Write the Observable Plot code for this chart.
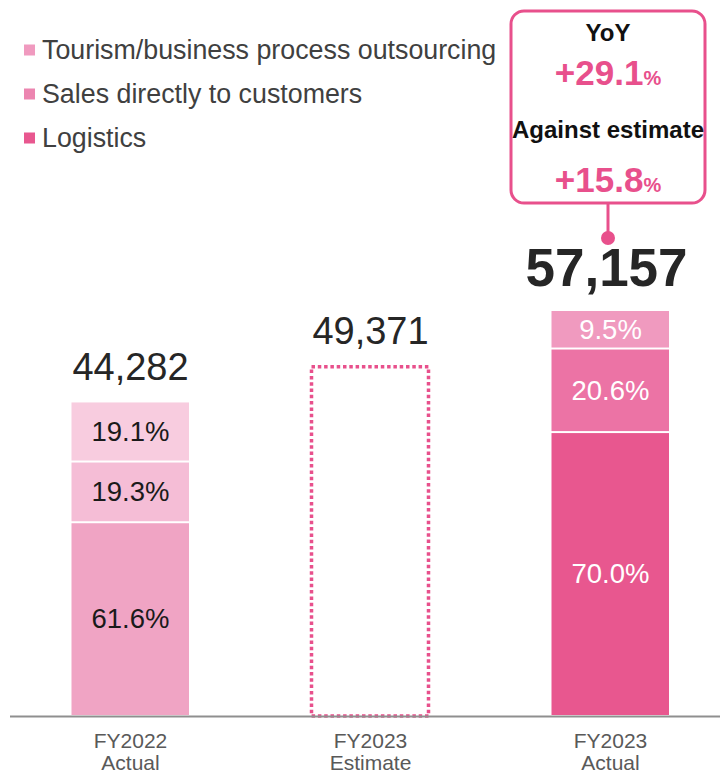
<!DOCTYPE html>
<html><head><meta charset="utf-8">
<script src="https://cdn.jsdelivr.net/npm/d3@7"></script>
<script src="https://cdn.jsdelivr.net/npm/@observablehq/plot@0.6"></script>
<style>body{margin:0;background:#fff;}</style>
</head><body><div id="chart"></div>
<script>
// ---- data ----
const categories = ["FY2022 Actual", "FY2023 Estimate", "FY2023 Actual"];
const axisLabels = ["FY2022\nActual", "FY2023\nEstimate", "FY2023\nActual"];
const totals = [44282, 49371, 57157];
const segments = ["Logistics", "Sales directly to customers", "Tourism/business process outsourcing"]; // bottom -> top
const shareFY2022 = [61.6, 19.3, 19.1];
const shareFY2023 = [70.0, 20.6, 9.5];
const legendItems = ["Tourism/business process outsourcing", "Sales directly to customers", "Logistics"];
const calloutLabels = ["YoY", "Against estimate"];
const calloutValues = ["+29.1", "+15.8"];

// ---- styles ----
const FONT = "'Liberation Sans', Arial, sans-serif";
const PINK = "#E8508C";
const palette2022 = ["#F0A4C4", "#F5BDD6", "#F8CCDF"];
const palette2023 = ["#E8578F", "#EC73A5", "#F09ABF"];
const legendColors = ["#F09ABF", "#EC85B0", "#E8578F"];

// ---- derived rows ----
function rowsFor(catIndex, shares, palette, textColor) {
  const sum = d3.sum(shares);
  return shares.map((s, i) => ({
    cat: categories[catIndex], segment: segments[i], share: s,
    value: totals[catIndex] * s / sum, color: palette[i], textColor
  }));
}
const stackRows = [
  ...rowsFor(0, shareFY2022, palette2022, "#1a1a1a"),
  ...rowsFor(2, shareFY2023, palette2023, "#ffffff")
];
const totalRows = categories.map((c, i) => ({cat: c, total: totals[i]}));
const fmt = d3.format(",");

// ---- custom marks ----
function legendMark(index, scales, values, dimensions) {
  const g = d3.create("svg:g").attr("font-family", FONT).attr("text-anchor", "start");
  legendItems.forEach((name, i) => {
    const cy = 50 + i * 44;
    g.append("rect").attr("x", 24).attr("y", cy - 5.5).attr("width", 11).attr("height", 11)
      .attr("fill", legendColors[i]);
    g.append("text").attr("x", 42).attr("y", cy + 9).attr("font-size", 26.8)
      .attr("fill", "#404040").text(name);
  });
  return g.node();
}

function calloutMark(index, scales, values, dimensions) {
  const bw = scales.x.bandwidth ? scales.x.bandwidth() : 0;
  const cx = scales.x(categories[2]) + bw / 2 - 2;
  const yTop = scales.y(totals[2]);
  const g = d3.create("svg:g").attr("font-family", FONT).attr("text-anchor", "middle");
  g.append("rect").attr("x", cx - 97).attr("y", yTop - 299).attr("width", 194).attr("height", 192)
    .attr("rx", 13).attr("fill", "white").attr("stroke", PINK).attr("stroke-width", 3);
  g.append("line").attr("x1", cx).attr("x2", cx).attr("y1", yTop - 107).attr("y2", yTop - 72)
    .attr("stroke", PINK).attr("stroke-width", 3);
  g.append("circle").attr("cx", cx).attr("cy", yTop - 72).attr("r", 7).attr("fill", PINK);
  const labY = [yTop - 278, yTop - 181];
  const valY = [yTop - 238, yTop - 131];
  calloutLabels.forEach((lab, i) => {
    g.append("text").attr("x", cx).attr("y", labY[i] + 8.5).attr("font-size", 24)
      .attr("font-weight", "bold").attr("fill", "#111").text(lab);
    const t = g.append("text").attr("x", cx).attr("y", valY[i] + 12.5).attr("fill", PINK)
      .attr("font-weight", "bold");
    t.append("tspan").attr("font-size", 35).text(calloutValues[i]);
    t.append("tspan").attr("font-size", 20).text("%");
  });
  return g.node();
}

const chart = Plot.plot({
  width: 720,
  height: 774,
  marginLeft: 10,
  marginRight: 0,
  marginTop: 0,
  marginBottom: 58,
  style: {fontFamily: FONT, background: "white"},
  x: {type: "band", domain: categories, range: [10, 730], paddingInner: 0.5, paddingOuter: 0.25, axis: null},
  y: {domain: [0, totals[2]], range: [716, 310], axis: null},
  color: {type: "identity"},
  marks: [
    Plot.barY(stackRows, Plot.stackY({x: "cat", y: "value", fill: "color", insetTop: 1, insetBottom: 1, insetLeft: 1.5, insetRight: 1})),
    Plot.text(stackRows, Plot.stackY({x: "cat", y: "value", text: d => d.share.toFixed(1) + "%", fill: "textColor", fontSize: 27.5, lineAnchor: "middle"})),
    Plot.barY(totalRows.filter(d => d.cat === categories[1]), {x: "cat", y: "total", fill: "none", stroke: PINK, strokeWidth: 3.5, strokeDasharray: "3.5,2.8", insetLeft: 1.5, insetRight: 1.5, insetTop: 1.5}),
    Plot.text(totalRows.filter(d => d.cat !== categories[2]), {x: "cat", y: "total", text: d => fmt(d.total), fontSize: 38, fill: "#262626", dy: -34, lineAnchor: "middle"}),
    Plot.text(totalRows.filter(d => d.cat === categories[2]), {x: "cat", y: "total", text: d => fmt(d.total), fontSize: 53, fontWeight: "bold", fill: "#262626", dy: -41, dx: -4, lineAnchor: "middle"}),
    Plot.ruleY([0], {stroke: "#8f8f8f", strokeWidth: 2}),
    Plot.axisX({tickSize: 0, tickPadding: 16, fontSize: 21, lineHeight: 1.05, fill: "#595959", label: null,
      tickFormat: d => axisLabels[categories.indexOf(d)]}),
    legendMark,
    calloutMark
  ]
});
document.getElementById("chart").append(chart);
</script>
</body></html>
